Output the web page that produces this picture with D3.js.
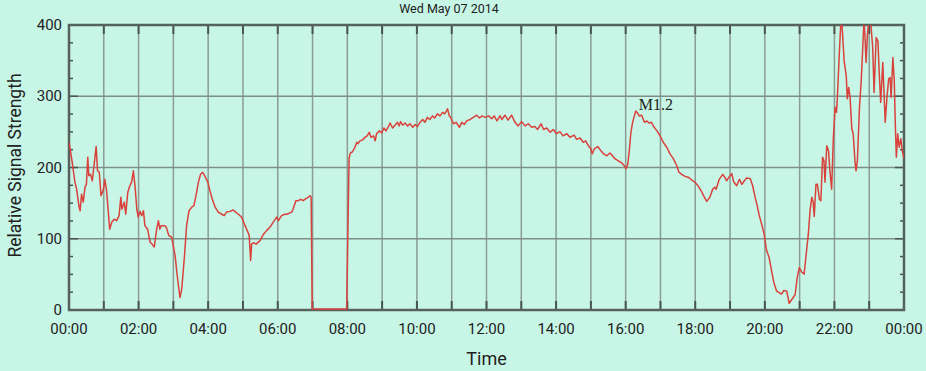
<!DOCTYPE html>
<html>
<head>
<meta charset="utf-8">
<script src="https://cdn.jsdelivr.net/npm/d3@7"></script>
<style>
  body { margin: 0; background: #c8f6e6; }
  text { font-family: Roboto, "DejaVu Sans", sans-serif; fill: #222; }
  .tick { font-size: 15px; }
</style>
</head>
<body>
<div id="chart"></div>
<script>
// signal readings, hours since midnight / relative strength
const hours = [0,0.08,0.17,0.22,0.29,0.32,0.36,0.41,0.46,0.5,0.54,0.57,0.62,0.67,0.73,0.78,0.82,0.87,0.92,0.99,1.03,1.08,1.13,1.17,1.23,1.3,1.37,1.44,1.49,1.52,1.59,1.63,1.69,1.75,1.8,1.85,1.9,1.95,1.99,2.04,2.09,2.14,2.18,2.26,2.33,2.39,2.45,2.52,2.57,2.61,2.65,2.76,2.8,2.87,2.95,3.05,3.11,3.19,3.24,3.32,3.38,3.45,3.53,3.59,3.65,3.72,3.78,3.84,3.9,3.99,4.05,4.12,4.2,4.29,4.39,4.46,4.53,4.63,4.72,4.79,4.87,4.96,5.06,5.14,5.18,5.22,5.25,5.3,5.38,5.49,5.59,5.68,5.78,5.87,5.97,6.02,6.11,6.2,6.26,6.4,6.44,6.52,6.59,6.66,6.73,6.81,6.88,6.93,6.96,6.99,7.98,8.05,8.08,8.11,8.14,8.22,8.27,8.31,8.36,8.43,8.51,8.57,8.63,8.68,8.75,8.8,8.84,8.92,8.99,9.05,9.11,9.18,9.23,9.3,9.37,9.44,9.49,9.53,9.59,9.66,9.73,9.8,9.88,9.95,10.01,10.09,10.17,10.23,10.3,10.37,10.45,10.51,10.59,10.66,10.74,10.8,10.88,10.93,10.97,11.05,11.13,11.22,11.29,11.36,11.43,11.53,11.62,11.72,11.8,11.87,11.96,12.06,12.15,12.22,12.3,12.39,12.44,12.53,12.62,12.72,12.82,12.91,13.01,13.11,13.2,13.3,13.39,13.47,13.57,13.64,13.73,13.83,13.92,14.01,14.11,14.2,14.31,14.4,14.52,14.59,14.69,14.78,14.85,14.93,15,15.04,15.1,15.2,15.29,15.36,15.46,15.55,15.62,15.69,15.79,15.89,15.96,16.01,16.06,16.11,16.15,16.2,16.25,16.29,16.34,16.39,16.46,16.54,16.61,16.67,16.74,16.82,16.9,16.99,17.08,17.18,17.27,17.37,17.47,17.53,17.61,17.71,17.8,17.9,17.99,18.08,18.19,18.26,18.33,18.42,18.5,18.56,18.6,18.69,18.79,18.85,18.9,18.97,19.05,19.1,19.19,19.27,19.34,19.41,19.48,19.58,19.65,19.72,19.78,19.84,19.91,19.98,20.05,20.12,20.2,20.26,20.34,20.41,20.48,20.55,20.63,20.7,20.77,20.87,20.93,20.99,21.06,21.13,21.18,21.25,21.3,21.35,21.39,21.42,21.47,21.51,21.57,21.61,21.66,21.7,21.73,21.78,21.83,21.87,21.92,21.97,22.02,22.06,22.09,22.14,22.18,22.21,22.24,22.28,22.34,22.37,22.41,22.45,22.5,22.54,22.59,22.62,22.66,22.72,22.77,22.81,22.85,22.88,22.91,22.95,22.99,23.04,23.1,23.14,23.2,23.25,23.29,23.33,23.39,23.43,23.46,23.51,23.56,23.6,23.63,23.68,23.72,23.75,23.78,23.82,23.86,23.91,23.95,24];
const strength = [234,210,178,168,143,138,161,150,171,175,213,187,189,180,206,228,194,192,159,168,182,166,136,112,122,126,124,131,157,140,150,133,164,173,178,194,171,140,129,137,131,138,117,112,94,91,87,112,124,112,117,117,114,103,101,75,47,16,28,75,117,138,143,145,159,178,189,192,187,178,166,154,143,136,133,131,136,137,139,136,133,129,117,108,103,68,91,93,91,96,105,110,115,122,129,124,131,133,133,136,140,152,152,154,152,155,157,159,157,0,0,211,218,220,220,227,234,232,236,237,241,243,248,241,243,236,246,250,247,254,250,256,261,254,258,262,257,263,258,261,257,260,255,259,256,262,266,262,269,266,271,268,274,271,276,274,281,271,269,260,262,255,262,259,264,266,269,272,268,271,269,271,267,271,264,271,266,272,265,272,262,257,263,257,260,255,256,252,260,252,254,248,252,246,249,243,246,241,244,238,240,234,236,229,225,218,225,228,222,218,215,219,215,211,208,205,201,197,203,225,248,262,271,278,275,271,272,262,264,261,262,255,250,243,234,227,218,211,201,192,189,186,185,181,178,173,164,157,151,157,168,171,168,182,189,185,180,185,190,179,173,182,175,180,184,183,173,157,145,131,119,105,82,73,52,37,25,23,21,26,25,8,13,20,44,58,52,49,73,105,138,157,150,130,175,175,154,152,213,208,178,229,222,194,168,241,283,276,302,358,398,405,381,348,327,295,311,297,253,246,208,194,208,283,320,362,405,381,346,386,405,405,367,304,381,376,330,290,346,299,262,297,323,325,297,353,320,260,213,246,227,239,222,211,205];
const timeTicks = ["00:00","02:00","04:00","06:00","08:00","10:00","12:00","14:00","16:00","18:00","20:00","22:00","00:00"];
const valueTicks = [0,100,200,300,400];
const title = "Wed May 07 2014";
const flare = {hour: 16.29, value: 278, label: "M1.2"};

const data = hours.map((h, i) => ({hour: h, value: strength[i]}));

const svg = d3.select("#chart").append("svg")
    .attr("width", 926)
    .attr("height", 371);

const margin = {top: 25, right: 22, bottom: 61, left: 69};
const width = +svg.attr("width") - margin.left - margin.right;
const height = +svg.attr("height") - margin.top - margin.bottom;

const g = svg.append("g").attr("transform", `translate(${margin.left},${margin.top})`);

const x = d3.scaleLinear().domain([0, 24]).range([0, width]);
const y = d3.scaleLinear().domain([0, 400]).range([height, 0]);

// grid
g.append("g")
    .selectAll("line")
    .data(d3.range(1, 24))
    .enter().append("line")
    .attr("x1", d => x(d)).attr("x2", d => x(d))
    .attr("y1", 0).attr("y2", height)
    .attr("stroke", "#8a9c94")
    .attr("stroke-width", 1.5);

g.append("g")
    .selectAll("line")
    .data([100, 200, 300])
    .enter().append("line")
    .attr("x1", 0).attr("x2", width)
    .attr("y1", d => y(d)).attr("y2", d => y(d))
    .attr("stroke", "#7f8e88")
    .attr("stroke-width", 1.5);

// hour ticks on top and bottom
const tickColor = "#4a5550";
g.append("g")
    .selectAll("line")
    .data(d3.range(1, 24))
    .enter().append("line")
    .attr("x1", d => x(d)).attr("x2", d => x(d))
    .attr("y1", height).attr("y2", height - 9)
    .attr("stroke", tickColor).attr("stroke-width", 2);
g.append("g")
    .selectAll("line")
    .data(d3.range(1, 24))
    .enter().append("line")
    .attr("x1", d => x(d)).attr("x2", d => x(d))
    .attr("y1", 0).attr("y2", 9)
    .attr("stroke", tickColor).attr("stroke-width", 2);

// minor ticks on left and right
const minor = d3.range(25, 400, 25);
g.append("g")
    .selectAll("line")
    .data(minor)
    .enter().append("line")
    .attr("x1", 0).attr("x2", d => d % 100 === 0 ? 9 : 4)
    .attr("y1", d => y(d)).attr("y2", d => y(d))
    .attr("stroke", tickColor).attr("stroke-width", 1.5);
g.append("g")
    .selectAll("line")
    .data(minor)
    .enter().append("line")
    .attr("x1", width).attr("x2", d => width - (d % 100 === 0 ? 9 : 4))
    .attr("y1", d => y(d)).attr("y2", d => y(d))
    .attr("stroke", tickColor).attr("stroke-width", 1.5);

// frame
g.append("rect")
    .attr("width", width).attr("height", height)
    .attr("fill", "none")
    .attr("stroke", "#56625c")
    .attr("stroke-width", 2.5);

// the signal, drawn over the frame so the zero stretch shows
g.append("clipPath").attr("id", "clip")
    .append("rect").attr("y", 0).attr("width", width).attr("height", height);

const line = d3.line()
    .x(d => x(d.hour))
    .y(d => y(d.value) - 1);

g.append("path")
    .datum(data)
    .attr("clip-path", "url(#clip)")
    .attr("fill", "none")
    .attr("stroke", "#d9423c")
    .attr("stroke-width", 1.5)
    .attr("stroke-linejoin", "round")
    .attr("d", line);

// axis labels
g.append("g")
    .selectAll("text")
    .data(timeTicks)
    .enter().append("text")
    .attr("class", "tick")
    .attr("x", (d, i) => x(i * 2))
    .attr("y", height + 24)
    .attr("text-anchor", "middle")
    .text(d => d);

g.append("g")
    .selectAll("text")
    .data(valueTicks)
    .enter().append("text")
    .attr("class", "tick")
    .attr("x", -7)
    .attr("y", d => y(d) + 5)
    .attr("text-anchor", "end")
    .text(d => d);

svg.append("text")
    .attr("x", margin.left + width / 2)
    .attr("y", 365)
    .attr("text-anchor", "middle")
    .style("font-size", "18px")
    .text("Time");

svg.append("text")
    .attr("transform", `translate(21,${margin.top + height / 2 - 2}) rotate(-90)`)
    .attr("text-anchor", "middle")
    .style("font-size", "17.5px")
    .text("Relative Signal Strength");

svg.append("text")
    .attr("x", 449)
    .attr("y", 13)
    .attr("text-anchor", "middle")
    .style("font-size", "12.5px")
    .text(title);

g.append("text")
    .attr("x", x(flare.hour) + 3)
    .attr("y", y(flare.value) - 2)
    .style("font-family", "'Liberation Serif', serif")
    .style("font-size", "16px")
    .text(flare.label);
</script>
</body>
</html>
